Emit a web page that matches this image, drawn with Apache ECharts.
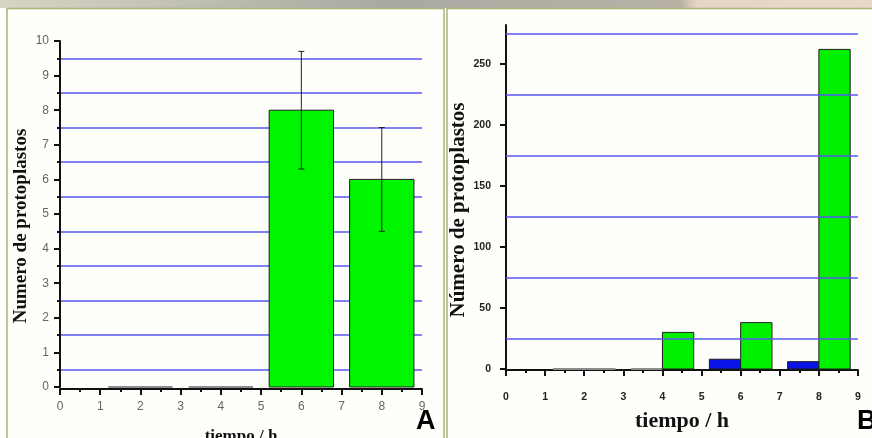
<!DOCTYPE html>
<html>
<head>
<meta charset="utf-8">
<script src="https://cdn.jsdelivr.net/npm/echarts@6/dist/echarts.min.js"></script>
<style>
  html, body { margin: 0; padding: 0; background: #fff; }
  #main { width: 872px; height: 438px; }
</style>
</head>
<body>
<div id="main"></div>
<script>
// panel A: mean protoplast count with error bars
var timesA = [2, 4, 6, 8];
var meanA = [0, 0, 8, 6];
var errA = [0, 0, 1.7, 1.5];

// panel B: two treatments (blue / green)
var timesB = [2, 4, 6, 8];
var blueB = [0, 0, 8, 6];
var greenB = [0, 30, 38, 262];
var gridLinesB = [25, 75, 125, 175, 225, 275];

var serif = '"Liberation Serif", "DejaVu Serif", serif';
var sans = '"Liberation Sans", Arial, sans-serif';
var gridBlue = '#5858f0';

function barItem(halfW, shift, fill) {
  return function (params, api) {
    var x = api.value(0) + shift;
    var v = api.value(1);
    var p0 = api.coord([x - halfW, v]);
    var p1 = api.coord([x + halfW, 0]);
    return {
      type: 'rect',
      shape: { x: p0[0], y: p0[1], width: p1[0] - p0[0], height: p1[1] - p0[1] },
      style: {
        fill: fill,
        stroke: v === 0 ? '#8c8c8c' : '#1c1c1c',
        lineWidth: v === 0 ? 2 : 1
      }
    };
  };
}

function errItem(params, api) {
  var x = api.value(0), m = api.value(1), e = api.value(2);
  if (!e) return { type: 'group', children: [] };
  var top = api.coord([x, m + e]);
  var bot = api.coord([x, m - e]);
  var st = { stroke: '#222', lineWidth: 1 };
  return {
    type: 'group',
    children: [
      { type: 'line', shape: { x1: top[0], y1: top[1], x2: bot[0], y2: bot[1] }, style: st },
      { type: 'line', shape: { x1: top[0] - 3, y1: top[1], x2: top[0] + 3, y2: top[1] }, style: st },
      { type: 'line', shape: { x1: bot[0] - 3, y1: bot[1], x2: bot[0] + 3, y2: bot[1] }, style: st }
    ]
  };
}

function xAxisOf(gridIndex, labelStyle, nameSize, nameGap, margin, offset) {
  return {
    type: 'value', gridIndex: gridIndex, min: 0, max: 9, interval: 1,
    offset: offset,
    name: 'tiempo / h', nameLocation: 'middle', nameGap: nameGap,
    nameTextStyle: { fontFamily: serif, fontWeight: 'bold', fontSize: nameSize, color: '#111' },
    axisLine: { onZero: false, lineStyle: { color: '#111', width: 2 } },
    axisTick: { length: 6, lineStyle: { color: '#111', width: 2 } },
    minorTick: { show: true, splitNumber: 2, length: 3, lineStyle: { color: '#111', width: 2 } },
    axisLabel: Object.assign({ margin: margin, showMinLabel: true, showMaxLabel: true }, labelStyle),
    splitLine: { show: false }
  };
}

var labelA = { fontFamily: sans, fontSize: 12, color: '#666' };
var labelB = { fontFamily: sans, fontSize: 10.5, color: '#222', fontWeight: 'bold' };

var myChart = echarts.init(document.getElementById('main'));
option = {
  backgroundColor: '#ffffff',
  animation: false,
  graphic: [
    {
      type: 'rect', z: -10, silent: true,
      shape: { x: 0, y: 0, width: 872, height: 8 },
      style: {
        fill: new echarts.graphic.LinearGradient(0, 0, 1, 0, [
          { offset: 0, color: '#d6d4c4' },
          { offset: 0.45, color: '#a9a9a2' },
          { offset: 0.78, color: '#b8b2a6' },
          { offset: 0.8, color: '#e6d6c6' },
          { offset: 1, color: '#e8d8c8' }
        ])
      }
    },
    {
      type: 'rect', z: -9, silent: true,
      shape: { x: 7, y: 8.5, width: 437, height: 440 },
      style: { fill: '#fefefb', stroke: '#a6b476', lineWidth: 1.5 }
    },
    {
      type: 'rect', z: -9, silent: true,
      shape: { x: 447, y: 8.5, width: 440, height: 440 },
      style: { fill: '#fefefb', stroke: '#a6b476', lineWidth: 1.5 }
    },
    {
      type: 'text', left: 416, top: 408, z: 10,
      style: { text: 'A', fontFamily: sans, fontWeight: 'bold', fontSize: 27, fill: '#000' }
    },
    {
      type: 'text', left: 857, top: 408, z: 10,
      style: { text: 'B', fontFamily: sans, fontWeight: 'bold', fontSize: 27, fill: '#000' }
    }
  ],
  grid: [
    { left: 60, right: 450, top: 41, bottom: 51, outerBoundsMode: 'none', containLabel: false },
    { left: 506, right: 14, top: 25, bottom: 69, outerBoundsMode: 'none', containLabel: false }
  ],
  xAxis: [
    xAxisOf(0, labelA, 17, 39, 12, 2),
    xAxisOf(1, labelB, 22, 40, 22, 1)
  ],
  yAxis: [
    {
      type: 'value', gridIndex: 0, min: 0, max: 10, interval: 1, offset: 3,
      name: 'Numero de protoplastos', nameLocation: 'middle', nameGap: 26,
      nameTextStyle: { fontFamily: serif, fontWeight: 'bold', fontSize: 19, color: '#111', padding: [0, 24, 0, 0] },
      axisLine: { show: true, lineStyle: { color: '#111', width: 2 } },
      axisTick: { length: 6, lineStyle: { color: '#111', width: 2 } },
      minorTick: { show: true, splitNumber: 2, length: 3, lineStyle: { color: '#111', width: 2 } },
      axisLabel: Object.assign({ margin: 8 }, labelA),
      splitLine: { show: false },
      minorSplitLine: { show: true, lineStyle: { color: gridBlue, width: 1.5 } }
    },
    {
      type: 'value', gridIndex: 1, min: 0, max: 282, interval: 50, offset: 3,
      name: 'Número de protoplastos', nameLocation: 'middle', nameGap: 34,
      nameTextStyle: { fontFamily: serif, fontWeight: 'bold', fontSize: 21, color: '#111', padding: [0, 26, 0, 0] },
      axisLine: { show: true, lineStyle: { color: '#111', width: 2 } },
      axisTick: { length: 6, lineStyle: { color: '#111', width: 2 } },
      axisLabel: Object.assign({ margin: 12, showMaxLabel: false }, labelB),
      splitLine: { show: false }
    }
  ],
  series: [
    {
      type: 'custom', xAxisIndex: 0, yAxisIndex: 0,
      renderItem: barItem(0.8, 0, '#00f500'),
      encode: { x: 0, y: 1 },
      data: timesA.map(function (t, i) { return [t, meanA[i]]; }),
      z: 3
    },
    {
      type: 'custom', xAxisIndex: 0, yAxisIndex: 0,
      renderItem: errItem,
      encode: { x: 0, y: 1 },
      data: timesA.map(function (t, i) { return [t, meanA[i], errA[i]]; }),
      z: 4
    },
    {
      type: 'custom', xAxisIndex: 1, yAxisIndex: 1,
      renderItem: barItem(0.4, -0.4, '#0a14e8'),
      encode: { x: 0, y: 1 },
      data: timesB.map(function (t, i) { return [t, blueB[i]]; }),
      z: 3,
      markLine: {
        silent: true, symbol: 'none', label: { show: false },
        lineStyle: { color: gridBlue, width: 1.5, type: 'solid' },
        data: gridLinesB.map(function (v) { return { yAxis: v }; })
      }
    },
    {
      type: 'custom', xAxisIndex: 1, yAxisIndex: 1,
      renderItem: barItem(0.4, 0.4, '#00f000'),
      encode: { x: 0, y: 1 },
      data: timesB.map(function (t, i) { return [t, greenB[i]]; }),
      z: 3
    }
  ]
};
myChart.setOption(option);
</script>
</body>
</html>
